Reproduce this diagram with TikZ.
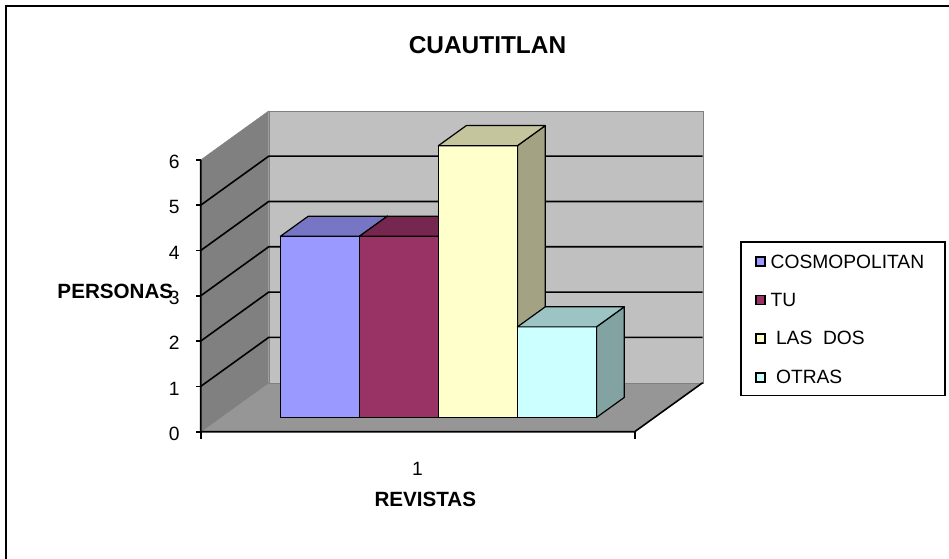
\documentclass[tikz,border=0pt]{standalone}
\usepackage{fontspec}
\setmainfont{Liberation Sans}
\usepackage{tikz}

\definecolor{cosmo}{HTML}{9999FF}
\definecolor{tu}{HTML}{993366}
\definecolor{lasdos}{HTML}{FFFFCC}
\definecolor{otras}{HTML}{CCFFFF}
\definecolor{pared}{HTML}{C0C0C0}
\definecolor{paredizq}{HTML}{808080}
\definecolor{piso}{HTML}{969696}

\begin{document}
\begin{tikzpicture}[x=1bp,y=-1bp,
  lbl/.style={inner sep=0pt,font=\fontsize{19.3}{23}\selectfont},
  blbl/.style={inner sep=0pt,font=\fontsize{20.7}{25}\selectfont\bfseries},
  legkey/.style={draw=black,line width=1.8bp,minimum size=9bp,inner sep=0pt},
  barline/.style={draw=black,line width=1.2bp,line join=round}]
\useasboundingbox (0,0) rectangle (949,559);
\draw[line width=2bp] (6,6) rectangle (1000,600);

\node[inner sep=0pt,font=\fontsize{24.5}{29}\selectfont\bfseries] (cuautitlan) at (487.5,44.7) {CUAUTITLAN};

% the box: floor, walls, grid
\begin{scope}[shift={(200.7,431.7)},x=1bp,y=45.3bp,z={(68bp,49bp)}]
\draw[fill=piso,draw=paredizq] (0,0,0) -- (434,0,0) -- (434,0,1) -- (0,0,1) -- cycle;
\draw[fill=pared,draw=paredizq] (0,0,1) -- (434,0,1) -- (434,6,1) -- (0,6,1) -- cycle;
\draw[fill=paredizq,draw=gray] (0,0,0) -- (0,0,1) -- (0,6,1) -- (0,6,0) -- cycle;
\foreach \k in {1,...,5}
  \draw[line width=1.6bp] (0,\k,0) -- (0,\k,1) -- (434,\k,1);
\draw[line width=1.6bp] (0,6,0) -- (0,0,0) -- (434,0,0) -- (434,0,1);
\foreach \k in {0,...,6} {
  \draw[line width=1.6bp] (0,\k,0) -- ++(-5bp,0pt);
  \node[lbl,anchor=east,xshift=-21bp,yshift=-2bp] (n\k) at (0,\k,0) {\k};
}
\draw[line width=1.6bp] (0,0,0) -- ++(0pt,-7bp);
\draw[line width=1.6bp] (434,0,0) -- ++(0pt,-7bp);

% bars
\foreach \x/\h/\c in {60/4/cosmo,139/4/tu,218/6/lasdos,297/2/otras} {
  \draw[barline,fill=\c!64!black] (\x+79,0,0.29) -- (\x+79,0,0.70) -- (\x+79,\h,0.70) -- (\x+79,\h,0.29) -- cycle;
  \draw[barline,fill=\c] (\x,0,0.29) -- (\x+79,0,0.29) -- (\x+79,\h,0.29) -- (\x,\h,0.29) -- cycle;
  \draw[barline,fill=\c!77!black] (\x,\h,0.29) -- (\x+79,\h,0.29) -- (\x+79,\h,0.70) -- (\x,\h,0.70) -- cycle;
}
\end{scope}

\node[blbl,anchor=west] (personas) at (57.3,291) {PERSONAS};
\node[lbl] (cat1) at (417.5,469) {1};
\node[blbl] (revistas) at (425.3,499) {REVISTAS};

% legend
\draw[line width=1.8bp] (741,241.7) rectangle (945,395.5);
\foreach \c/\t/\y in {cosmo/COSMOPOLITAN/261.7,tu/TU/300,lasdos/{\ LAS\ \ DOS}/338.3,otras/{\ OTRAS}/377.3} {
  \node[legkey,fill=\c] (k\c) at (760.5,\y) {};
  \node[lbl,anchor=west] (t\c) at (770.5,\y) {\t};
}
\end{tikzpicture}
\end{document}
